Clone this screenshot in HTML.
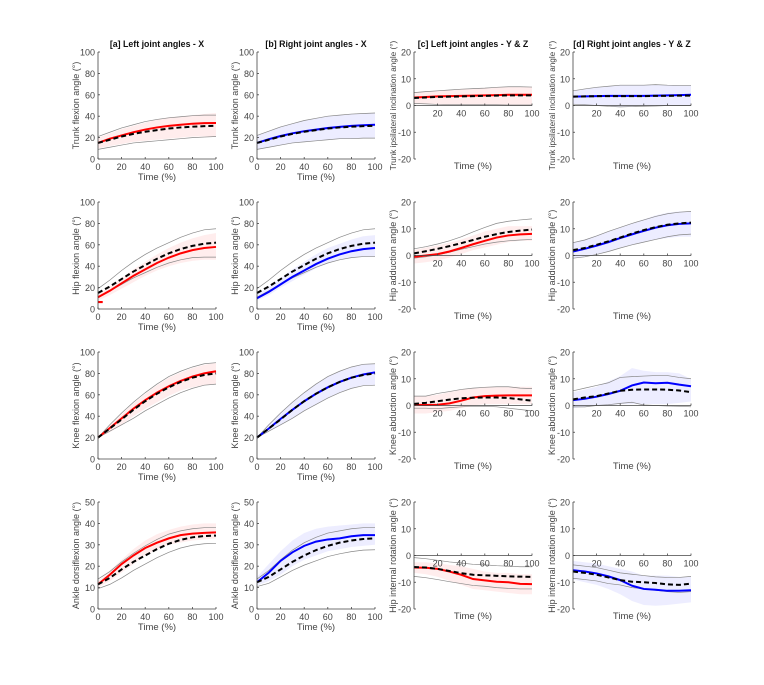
<!DOCTYPE html>
<html><head><meta charset="utf-8"><style>
body{margin:0;background:#fff;}
svg{display:block;font-family:"Liberation Sans",Arial,sans-serif;}
</style></head><body>
<svg id="fig" width="764" height="685" viewBox="0 0 764 685"></svg>
<script>
// x samples (Time %)
const timePts=[0,10,20,30,40,50,60,70,80,90,100];
const colTitles=["[a] Left joint angles - X","[b] Right joint angles - X","[c] Left joint angles - Y & Z","[d] Right joint angles - Y & Z"];
const rowLabelsX=["Trunk flexion angle (°)","Hip flexion angle (°)","Knee flexion angle (°)","Ankle dorsiflexion angle (°)"];
const rowLabelsYZ=["Trunk ipsilateral inclination angle (°)","Hip adduction angle (°)","Knee abduction angle (°)","Hip internal rotation angle (°)"];
const ticks100=[0,20,40,60,80,100];
const ticks50=[0,10,20,30,40,50];
const ticks20=[-20,-10,0,10,20];
const xTicksX=[0,20,40,60,80,100];
const xTicksYZ=[20,40,60,80,100];
// row-major panels: [row][col]
const meanVals=[
[[15,19,22,25,27.5,29.5,31,32,33,33.5,33.7],[15,18.5,21.5,24,26,27.5,29,30,31,31.5,32],[3,3.2,3.4,3.5,3.6,3.7,3.8,3.9,4,4,4],[3.3,3.4,3.5,3.6,3.6,3.6,3.6,3.7,3.8,3.9,4]],
[[11,17,24,31,37,43,48,52,55,57,58],[10,16,23,30,36,42,47,51,54,56,57],[-0.5,0,0.5,1.5,2.8,4.2,5.5,6.7,7.5,7.9,8.1],[1.5,2.5,3.7,5,6.5,7.9,9.2,10.4,11.3,11.8,12]],
[[20,29,38,47,55,62,68,73,77,80,82],[20,28.5,37.5,46,54,61,67,72,76,79,81],[0.3,0.2,0.3,0.8,1.8,3,3.5,3.7,3.8,3.8,3.8],[2,2.5,3.3,4.3,5.5,7.5,8.6,8.3,8.5,7.8,7.2]],
[[11.5,16,21,25,28.5,31,33,34.5,35.2,35.6,35.8],[12.5,17,22.5,26.5,29.5,31.5,32.5,33,34,34.5,34.5],[-4.5,-4.6,-5,-6,-7.2,-8.8,-9.3,-9.8,-10,-10.6,-10.7],[-5.5,-6,-6.7,-7.8,-9.2,-11.3,-12.5,-12.8,-13.2,-13.2,-13]]];
const refVals=[
[[15,18,21,23.5,25.5,27,28.5,29.5,30.2,30.7,31],[15,18,21,23.5,25.5,27,28.5,29.5,30.2,30.7,31],[2.8,3,3.2,3.3,3.4,3.5,3.6,3.7,3.8,3.8,3.8],[3.3,3.4,3.5,3.5,3.5,3.5,3.5,3.6,3.6,3.7,3.7]],
[[15,21,28,35,41,47,52,56,59,61,62],[15,21,28,35,41,47,52,56,59,61,62],[0.8,1.6,2.5,3.5,4.6,5.8,7,8,8.8,9.3,9.7],[2,2.8,4,5.3,6.7,8.2,9.5,10.6,11.5,12,12.3]],
[[20,28.5,37,46,54,61,67,72,76,78.5,80],[20,28.5,37,46,54,61,67,72,76,78.5,80],[0.6,1,1.6,2.2,2.7,2.9,3,3,2.8,2.3,1.8],[2.3,3,3.5,4.5,5.5,5.9,6,6,5.9,5.6,5]],
[[11.5,14.5,18.5,22,25,28,30.5,32.3,33.5,34.1,34.3],[12.5,15,18.5,22,25,27.5,29.5,31,32,32.7,33],[-4.3,-4.5,-5,-5.8,-6.6,-7.2,-7.4,-7.6,-7.8,-7.9,-8],[-6,-6.5,-7.2,-8.2,-9.2,-9.8,-10,-10.3,-10.8,-11,-10.5]]];
const bandLoVals=[
[[10,12,14,16,17,18,19,20,21,21,21],[9,11,13,15,16,17,18,19,19,19.5,19.5],[0.5,0.5,0.3,0.2,0.2,0.2,0.2,0.2,0,0,0],[0.5,0.3,0,-0.3,-0.5,-0.4,-0.3,-0.2,0,0,0]],
[[8,13,19,25,31,36,40,43,45,46,46],[8,13,20,26,32,38,43,46,48,49,49],[-3,-2.5,-1.8,-0.8,0.5,2,3,4,5,5.5,5.5],[-1,-0.5,0.5,1.5,3,4,5,6,6.5,7,7]],
[[20,25,32,40,47,53,59,64,67,69,70],[20,26,32,38,45,51,57,62,66,69,69],[-3,-3,-2.5,-2,-1,0,0.5,0.5,0.5,0.5,0.5],[-1,-0.5,0,0,0.5,0.5,0.5,0.5,0.5,1,1.5]],
[[10,13,17,21,25,28,30,31,32,32.5,33],[11,13,16,20,23,25,27,28,29,29.5,30],[-6.5,-7,-8,-9.5,-11,-12.5,-13,-13.5,-14,-14.5,-14.5],[-9,-10,-11,-12.5,-14.5,-17,-18.5,-18.8,-18.5,-18,-17.5]]];
const bandHiVals=[
[[20,24,28,31,34,37,39,40,41,42,43],[22,26,30,33,36,38,40,41,42,42.5,43],[5,5.3,5.6,5.9,6.2,6.4,6.6,6.8,7,7,7],[5.5,6.2,6.8,7.2,7.6,7.6,7.6,7.8,7.6,7.5,7.5]],
[[14,21,29,37,44,51,57,62,66,69,71],[14,21,29,37,44,51,57,61,65,68,69],[2,3,3.8,4.8,6,7.5,9,10,11,11,11],[5,6,7.5,9,10.5,12,13.5,15,16,16.5,16.5]],
[[20,31,42,52,61,69,76,81,85,88,90],[20,32,43,53,62,70,77,82,86,88.5,89],[3.5,3.5,4,5,6,6.5,7,7,7,7,7],[5,6,7,9,11,14,13,12.5,12.5,12,10]],
[[13,18,23,28,32,35,37,38.5,39.5,40,40],[15,21,27,32,35.5,37.5,38.5,39,39.5,40,40],[-2.5,-2.5,-3,-3.5,-4,-5,-6,-6.5,-6.5,-7,-7],[-2,-2.5,-3,-4,-5,-6,-7.5,-7.5,-7.5,-8,-8]]];
const grayLoVals=[
[[9,11,13,15,16,17,18,19,20,20.5,21],[9,11,13,15,16,17,18,19,19,19.5,19.5],[0.8,0.6,0.4,0.3,0.3,0.3,0.3,0.3,0.2,0.2,0.2],[0.5,0.3,0,-0.3,-0.5,-0.4,-0.3,-0.2,0,0,0]],
[[11,17,23,29,34,39,43,46,48,48.5,48.5],[11,17,23,29,34,39,43,46,48,49,49],[-1,-0.5,0.2,1.2,2.3,3.3,4.3,5,5.5,5.8,6],[-1,-0.5,0.4,1.5,2.8,4,5,6,7,7.7,8]],
[[20,26,32,38,45,51,57,62,66,69,70],[20,26,32,38,45,51,57,62,66,68.5,69],[-1,-1,-1.2,-0.8,-0.5,-0.3,-0.3,-0.5,-1,-1.5,-2],[-0.5,-0.5,0,0.3,0.8,1.2,0.2,0,-0.2,-0.3,-0.5]],
[[9.5,11.5,14.5,18,21,24,26.5,28.5,29.8,30.5,30.7],[10.5,12,15,18,20.5,22.5,24.5,25.8,26.8,27.5,27.7],[-7.8,-8.3,-9,-9.8,-10.5,-11.2,-11.5,-12,-12.3,-12.5,-12.5],[-8.5,-9,-9.5,-10.5,-11,-12,-12.5,-13,-13.5,-13.8,-13.5]]];
const grayHiVals=[
[[21,25,29,32,35,37,38.5,39.5,40.5,41,41],[22,26,30,33,36,38,40,41,42,42.5,43],[4.8,5.2,5.5,5.8,6.1,6.3,6.5,6.8,7,7,6.9],[5.5,6.2,6.8,7.2,7.6,7.6,7.6,7.8,7.6,7.5,7.5]],
[[19,27,36,44,51,57,62,67,71,74,75],[19,27,36,44,51,57,62,67,71,74,75],[2.5,3.3,4.3,5.5,7,8.8,10.5,12,12.8,13.3,13.7],[4.8,5.8,7.3,9,10.5,12,13.3,14.6,15.6,16.2,16.5]],
[[20,32,43,53,62,70,77,82,86,89,90],[20,32,43,53,62,70,77,82,86,88.5,89],[3.5,3.5,4.5,5.2,6,6.5,6.8,7,7,6.5,6.3],[5.5,6.5,7.5,8.5,10.5,10.8,11,11.2,11.2,10.5,10]],
[[14,17.5,22,26,29.5,32.5,35,36.5,37.5,38,38],[14,18,23,27.5,31,33.5,35.5,36.5,37.5,38,38],[-0.8,-1.2,-1.8,-2.4,-2.8,-3.3,-3.5,-3.8,-4,-4.2,-4.2],[-3.5,-4,-4.5,-5.5,-6.5,-7,-7.5,-8,-8.2,-8.2,-7.8]]];

const NS="http://www.w3.org/2000/svg";
const svg=document.getElementById('fig');
const colX=[98,257,414,573], PW=118, PH=107;
function mk(tag,attrs,parent){const e=document.createElementNS(NS,tag);for(const k in attrs)e.setAttribute(k,attrs[k]);(parent||svg).appendChild(e);return e;}
function txt(x,y,s,anchor,size,parent,extra){const t=mk('text',Object.assign({x:x,y:y,'text-anchor':anchor,'font-size':size,fill:'#444'},extra||{}),parent);t.textContent=s;return t;}

for(let c=0;c<4;c++){
  const tt=txt(colX[c]+PW/2,47,colTitles[c],'middle',8.8,svg,{'font-weight':'bold',fill:'#111'});
  
  
}
for(let r=0;r<4;r++)for(let c=0;c<4;c++){
  const isX=c<2, left=(c%2===0);
  const x0=colX[c], top=52+150*r, bot=top+PH;
  const ymin=isX?0:-20, ymax=isX?(r===3?50:100):20;
  const yt=isX?(r===3?ticks50:ticks100):ticks20;
  const xs=v=>x0+v/100*PW, ys=v=>bot-(v-ymin)/(ymax-ymin)*PH;
  const g=mk('g',{});
  
  
  const col=left?'#ff0000':'#0000ff', fillc=left?'rgba(255,0,0,0.07)':'rgba(0,0,255,0.07)';
  const lo=bandLoVals[r][c], hi=bandHiVals[r][c];
  let d='M'+timePts.map((t,i)=>xs(t)+','+ys(hi[i])).join(' L')+' L'+timePts.slice().reverse().map((t,j)=>xs(t)+','+ys(lo[10-j])).join(' L')+'Z';
  const band=mk('path',{d:d,fill:fillc,stroke:'none'},g);
  
  
  const pl=(arr,attrs,name)=>{const p=mk('polyline',Object.assign({points:timePts.map((t,i)=>xs(t)+','+ys(arr[i])).join(' '),fill:'none'},attrs),g);
    
    return p;};
  pl(grayHiVals[r][c],{stroke:'#888','stroke-width':0.7},'reference-sd-upper');
  pl(grayLoVals[r][c],{stroke:'#888','stroke-width':0.7},'reference-sd-lower');
  pl(meanVals[r][c],{stroke:col,'stroke-width':2},'subject-mean-line');
  pl(refVals[r][c],{stroke:'#000','stroke-width':2,'stroke-dasharray':'5,3'},'reference-mean-line');
  if(r===1&&c===0){const m=mk('rect',{x:xs(0),y:ys(7.5),width:xs(4)-xs(0),height:ys(5.5)-ys(7.5),fill:'#ff0000'},g);
    
    }
  const ax=mk('g',{},g);
  
  
  mk('line',{x1:x0,y1:top,x2:x0,y2:bot,stroke:'#444','stroke-width':0.8},ax);
  const xAxY=isX?bot:ys(0);
  mk('line',{x1:x0,y1:xAxY,x2:x0+PW,y2:xAxY,stroke:'#444','stroke-width':0.8},ax);
  yt.forEach(v=>{mk('line',{x1:x0,y1:ys(v),x2:x0+2,y2:ys(v),stroke:'#444','stroke-width':0.8},ax);
    txt(x0-3,ys(v)+3.5,String(v),'end',9,ax);});
  (isX?xTicksX:xTicksYZ).forEach(v=>{mk('line',{x1:xs(v),y1:xAxY,x2:xs(v),y2:xAxY-2,stroke:'#444','stroke-width':0.8},ax);
    txt(xs(v),xAxY+11,String(v),'middle',9,ax);});
  const tl=txt(x0+PW/2,isX?bot+21:bot+10,'Time (%)','middle',9.5,ax);
  
  
  const lbl=isX?rowLabelsX[r]:rowLabelsYZ[r];
  const fs=(!isX&&r===0)?8.2:9;
  const lx=isX?x0-19:x0-18, ly=top+PH/2;
  const yl=txt(lx,ly,lbl,'middle',fs,ax,{transform:'rotate(-90 '+lx+' '+ly+')'});
  
  
}
</script>
</body></html>
